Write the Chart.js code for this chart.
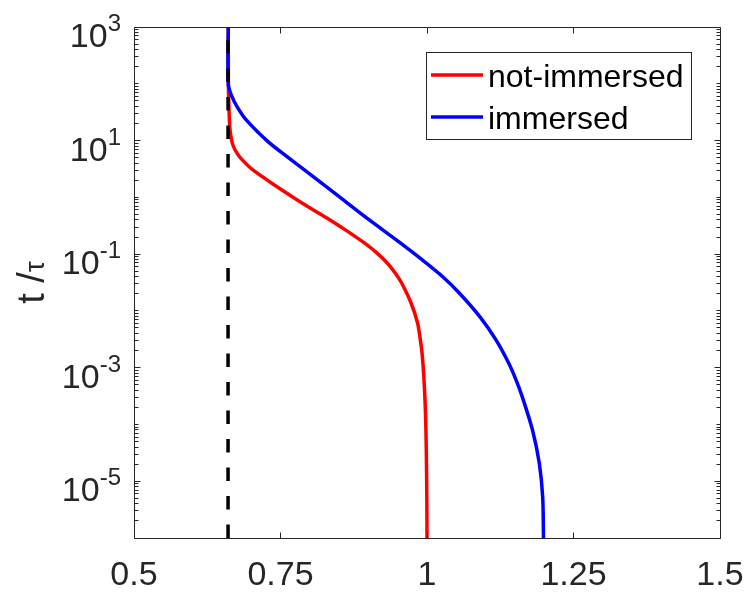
<!DOCTYPE html>
<html>
<head>
<meta charset="utf-8">
<script src="https://cdn.jsdelivr.net/npm/chart.js@4/dist/chart.umd.min.js"></script>
<style>
  html, body { margin: 0; padding: 0; background: #fff; }
  canvas { display: block; }
</style>
</head>
<body>
<canvas id="chart" width="746" height="594"></canvas>
<script>
// series: position x against normalised time t/tau (log scale)
const seriesLabels = ['not-immersed', 'immersed'];
const seriesColors = ['#ff0000', '#0000ff'];

const notImmersedX = [0.6609, 0.6611, 0.6621, 0.6638, 0.6664, 0.6698, 0.6775, 0.6877, 0.7022, 0.7389,
  0.7833, 0.8055, 0.8311, 0.8524, 0.8925, 0.9138, 0.9317, 0.9454, 0.9565, 0.9727, 0.9838, 0.9881,
  0.9915, 0.9949, 0.9974, 0.9988, 0.9997, 1.0];
const notImmersedT = [1000, 105, 35.1, 15.6, 10.4, 7.82, 5.65, 4.25, 3.07, 1.67,
  0.839, 0.606, 0.420, 0.304, 0.159, 0.106, 0.0705, 0.0469, 0.0313, 0.0139, 0.00617, 0.00336,
  0.00183, 6.1e-4, 1.6e-4, 3.56e-5, 4.67e-6, 1e-6];

const immersedX = [0.6609, 0.6609, 0.6672, 0.6758, 0.6911, 0.7287, 0.7611, 0.7969, 0.8413, 0.9010,
  0.9539, 0.9915, 1.0268, 1.0546, 1.0904, 1.1177, 1.1391, 1.1519, 1.1626, 1.1800, 1.1916, 1.1974, 1.1988];
const immersedT = [1000, 96.9, 59.5, 39.7, 23.4, 9.58, 5.21, 2.72, 1.21, 0.404,
  0.159, 0.0796, 0.0399, 0.0209, 0.00787, 0.00309, 0.00122, 6.1e-4, 3.06e-4, 8.0e-5, 2.1e-5, 5.28e-6, 1e-6];

// vertical reference line
const thresholdX = 0.6605;

const xRange = [0.5, 1.5];
const yRange = [1e-6, 1e3];
const xTicks = [0.5, 0.75, 1, 1.25, 1.5];
const yTickExponents = [-5, -3, -1, 1, 3];

const axisColor = '#262626';
const fontFamily = '"Liberation Sans", Arial, Helvetica, sans-serif';

function toPoints(xs, ts) {
  return xs.map((x, i) => ({ x, y: ts[i] }));
}

function crisp(v) {
  return Math.round(v - 0.5) + 0.5;
}

// box, inward ticks, tick labels, y title and legend
const matlabAxes = {
  id: 'matlabAxes',
  afterDatasetsDraw(chart) {
    const { ctx, chartArea: a, scales: { x, y } } = chart;
    const left = crisp(a.left), right = crisp(a.right);
    const top = crisp(a.top), bottom = crisp(a.bottom);

    ctx.save();
    ctx.strokeStyle = axisColor;
    ctx.lineWidth = 1;
    ctx.beginPath();
    ctx.rect(left, top, right - left, bottom - top);

    xTicks.forEach((v) => {
      const px = crisp(x.getPixelForValue(v));
      ctx.moveTo(px, bottom); ctx.lineTo(px, bottom - 6);
      ctx.moveTo(px, top); ctx.lineTo(px, top + 6);
    });

    const eMin = Math.round(Math.log10(yRange[0]));
    const eMax = Math.round(Math.log10(yRange[1]));
    for (let e = eMin; e < eMax; e++) {
      for (let m = 1; m < 10; m++) {
        const py = crisp(y.getPixelForValue(m * Math.pow(10, e)));
        const len = (m === 1 && yTickExponents.includes(e)) ? 6 : 4;
        ctx.moveTo(left, py); ctx.lineTo(left + len, py);
        ctx.moveTo(right, py); ctx.lineTo(right - len, py);
      }
    }
    ctx.stroke();

    // x tick labels
    ctx.fillStyle = axisColor;
    ctx.font = `34px ${fontFamily}`;
    ctx.textAlign = 'center';
    ctx.textBaseline = 'alphabetic';
    xTicks.forEach((v) => {
      ctx.fillText(String(v), x.getPixelForValue(v), a.bottom + 47);
    });

    // y tick labels as 10^n
    const labelRight = a.left - 13;
    yTickExponents.forEach((e) => {
      const py = y.getPixelForValue(Math.pow(10, e));
      const sup = String(e);
      ctx.font = `24px ${fontFamily}`;
      const supW = ctx.measureText(sup).width;
      ctx.textAlign = 'left';
      ctx.fillText(sup, labelRight - supW, py + 4);
      ctx.font = `34px ${fontFamily}`;
      ctx.textAlign = 'right';
      ctx.fillText('10', labelRight - supW, py + 20);
    });

    // y axis title: t /tau
    ctx.save();
    ctx.translate(44, (a.top + a.bottom) / 2);
    ctx.rotate(-Math.PI / 2);
    ctx.textAlign = 'left';
    ctx.font = `38px ${fontFamily}`;
    const main = 't /';
    const mainW = ctx.measureText(main).width;
    ctx.font = `28px ${fontFamily}`;
    const tauW = ctx.measureText('τ').width;
    const start = -(mainW + tauW) / 2;
    ctx.font = `38px ${fontFamily}`;
    ctx.fillText(main, start, 0);
    ctx.font = `28px ${fontFamily}`;
    ctx.fillText('τ', start + mainW, 0);
    ctx.restore();

    // legend
    const box = { x: 426.5, y: 52.5, w: 265, h: 87 };
    ctx.fillStyle = '#ffffff';
    ctx.fillRect(box.x, box.y, box.w, box.h);
    ctx.strokeStyle = axisColor;
    ctx.lineWidth = 1;
    ctx.strokeRect(box.x, box.y, box.w, box.h);
    ctx.font = `32px ${fontFamily}`;
    ctx.textAlign = 'left';
    seriesLabels.forEach((label, i) => {
      const rowY = 75 + i * 42;
      ctx.strokeStyle = seriesColors[i];
      ctx.lineWidth = 3.5;
      ctx.beginPath();
      ctx.moveTo(431, rowY);
      ctx.lineTo(483, rowY);
      ctx.stroke();
      ctx.fillStyle = '#000000';
      ctx.fillText(label, 488, rowY + 12);
    });

    ctx.restore();
  }
};

new Chart(document.getElementById('chart'), {
  type: 'line',
  data: {
    datasets: [
      {
        label: 'threshold',
        data: [{ x: thresholdX, y: yRange[0] }, { x: thresholdX, y: yRange[1] }],
        borderColor: '#000000',
        borderWidth: 3.5,
        borderDash: [13.5, 15],
        pointRadius: 0,
        order: 0,
      },
      {
        label: seriesLabels[1],
        data: toPoints(immersedX, immersedT),
        borderColor: seriesColors[1],
        borderWidth: 3.5,
        pointRadius: 0,
        tension: 0.3,
        order: 1,
      },
      {
        label: seriesLabels[0],
        data: toPoints(notImmersedX, notImmersedT),
        borderColor: seriesColors[0],
        borderWidth: 3.5,
        pointRadius: 0,
        tension: 0.3,
        order: 2,
      },
    ],
  },
  options: {
    responsive: false,
    devicePixelRatio: 1,
    animation: false,
    layout: { padding: { left: 134, right: 26, top: 27, bottom: 56 } },
    scales: {
      x: { type: 'linear', min: xRange[0], max: xRange[1], display: false },
      y: { type: 'logarithmic', min: yRange[0], max: yRange[1], display: false },
    },
    plugins: {
      legend: { display: false },
      tooltip: { enabled: false },
    },
  },
  plugins: [matlabAxes],
});
</script>
</body>
</html>
